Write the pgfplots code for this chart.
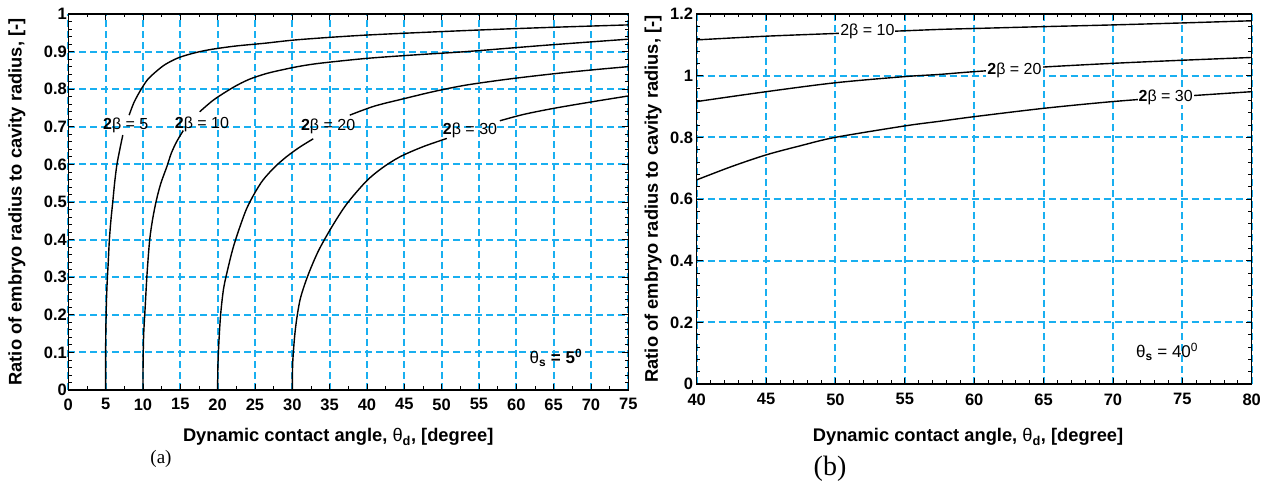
\documentclass[border=0pt]{standalone}
\usepackage{fontspec}
\setmainfont{Liberation Sans}
\newfontfamily\seriffont{Liberation Serif}
\usepackage{pgfplots}
\pgfplotsset{compat=1.18}
\definecolor{gridc}{RGB}{25,175,240}
\pgfplotsset{
  panel/.style={
    scale only axis,
    axis line style={line width=1.2pt},
    grid=major,
    major grid style={dash pattern=on 7pt off 4pt, color=gridc, line width=2pt},
    tick style={black, line width=0.8pt},
    major tick length=6pt,
    minor tick length=3.5pt,
    /pgf/number format/assume math mode=true,
    tick label style={font=\fontsize{16.5}{16.5}\selectfont\bfseries},
    label style={font=\fontsize{18.3}{18.3}\selectfont\bfseries},
    cycle list={{black, solid, line width=1.4pt}},
    every axis plot post/.append style={black, solid, line width=1.4pt, no markers, smooth, tension=0.5},
  }
}
\begin{document}
\begin{tikzpicture}[x=1pt,y=1pt]
\useasboundingbox (0,0) rectangle (1261,489);
% ---------------- panel (a)
\begin{axis}[panel,
  at={(68.3pt,99pt)}, anchor=south west,
  width=560pt, height=376pt,
  xmin=0, xmax=75, ymin=0, ymax=1,
  xtick={0,5,...,75},
  ytick={0,0.1,0.2,0.3,0.4,0.5,0.6,0.7,0.8,0.9,1},
  yticklabels={0,0.1,0.2,0.3,0.4,0.5,0.6,0.7,0.8,0.9,1},
  minor x tick num=1, minor y tick num=4,
  xticklabel style={yshift=-5pt},
  yticklabel style={xshift=2pt},
  xlabel={Dynamic contact angle, {\mdseries θ}\textsubscript{d}, [degree]},
  ylabel={Ratio of embryo radius to cavity radius, [-]},
  xlabel style={at={(axis description cs:0.482,0)}, anchor=center, yshift=-47pt},
  ylabel style={at={(axis description cs:-0.0916,0.5)}, anchor=center},
]
% 2beta = 5
\addplot coordinates {(5,0) (5.0,0.08) (5.02,0.15) (5.1,0.23) (5.2,0.284) (5.35,0.34) (5.5,0.399) (5.7,0.45) (5.95,0.499) (6.2,0.55) (6.5,0.598) (6.9,0.64) (7.3,0.678)};
\addplot coordinates {(8.15,0.731) (8.8,0.765) (9.7,0.798) (10.6,0.825) (11.7,0.846) (13.0,0.866) (14.8,0.884) (17,0.897) (19.2,0.906) (22.5,0.915) (26.2,0.922) (31,0.932) (40,0.944) (53.3,0.956) (64,0.964) (75,0.971)};
% 2beta = 10
\addplot coordinates {(10,0) (10.02,0.08) (10.1,0.15) (10.3,0.222) (10.55,0.31) (10.9,0.399) (11.3,0.455) (11.8,0.505) (12.4,0.55) (13.2,0.594) (13.8,0.63) (14.5,0.66) (15.4,0.69)};
\addplot coordinates {(17.6,0.740) (19.5,0.772) (22.1,0.805) (24.2,0.826) (26.6,0.842) (29,0.853) (31,0.861) (33.7,0.869) (40,0.882) (47,0.892) (53.3,0.900) (64,0.917) (75,0.933)};
% 2beta = 20
\addplot coordinates {(20,0) (20.03,0.06) (20.15,0.12) (20.4,0.2) (20.8,0.27) (21.4,0.325) (22.1,0.38) (23,0.435) (23.9,0.483) (25,0.525) (26.1,0.559) (27.6,0.592) (29.2,0.620) (31,0.646) (32.8,0.668)};
\addplot coordinates {(37.7,0.731) (41,0.755) (45,0.775) (49,0.794) (53.3,0.811) (59,0.827) (65,0.841) (70,0.851) (75,0.860)};
% 2beta = 30
\addplot coordinates {(30,0) (30.05,0.07) (30.3,0.14) (30.6,0.19) (31.1,0.245) (32.1,0.305) (33.5,0.37) (35.3,0.434) (37.3,0.495) (39.9,0.555) (42,0.59) (44.4,0.62) (47.5,0.647) (50.7,0.669)};
\addplot coordinates {(57.8,0.716) (61,0.733) (65,0.749) (70,0.766) (75,0.782)};
\node[font=\fontsize{16}{16}\selectfont] at (axis cs:7.7,0.705) {\textbf{2}β = 5};
\node[font=\fontsize{16}{16}\selectfont] at (axis cs:17.9,0.707) {\textbf{2}β = 10};
\node[font=\fontsize{16}{16}\selectfont] at (axis cs:34.8,0.70) {\textbf{2}β = 20};
\node[font=\fontsize{16}{16}\selectfont] at (axis cs:53.8,0.69) {\textbf{2}β = 30};
\node[font=\fontsize{17}{17}\selectfont] at (axis cs:65.3,0.085) {θ\textsubscript{\textbf{s}} \textbf{= 5\textsuperscript{0}}};
\end{axis}
% ---------------- panel (b)
\begin{axis}[panel,
  at={(696.7pt,105pt)}, anchor=south west,
  width=555pt, height=370pt,
  xmin=40, xmax=80, ymin=0, ymax=1.2,
  xtick={40,45,...,80},
  ytick={0,0.2,0.4,0.6,0.8,1,1.2},
  yticklabels={0,0.2,0.4,0.6,0.8,1,1.2},
  minor x tick num=4, minor y tick num=4,
  xticklabel style={yshift=-6pt},
  xlabel={Dynamic contact angle, {\mdseries θ}\textsubscript{d}, [degree]},
  ylabel={Ratio of embryo radius to cavity radius, [-]},
  xlabel style={at={(axis description cs:0.489,0)}, anchor=center, yshift=-53pt},
  ylabel style={at={(axis description cs:-0.0787,0.5)}, anchor=center},
]
\addplot coordinates {(40,1.116) (45,1.128) (50.1,1.137) (54.7,1.145) (57.5,1.150) (60,1.153) (65,1.159) (69.5,1.164) (75,1.171) (80,1.178)};
\addplot coordinates {(40,0.916) (45,0.948) (50,0.977) (55,0.997) (57.5,1.004) (60,1.013) (65,1.028) (70,1.040) (75,1.050) (80,1.059)};
\addplot coordinates {(40,0.662) (42.5,0.705) (45,0.743) (47.5,0.773) (50,0.800) (55,0.837) (57.5,0.852) (60,0.867) (65,0.894) (70,0.916) (75,0.933) (80,0.948)};
\node[font=\fontsize{16}{16}\selectfont, fill=white, inner sep=1pt] at (axis cs:52.3,1.145) {2β = 10};
\node[font=\fontsize{16}{16}\selectfont, fill=white, inner sep=1pt] at (axis cs:62.9,1.018) {\textbf{2}β = 20};
\node[font=\fontsize{16}{16}\selectfont, fill=white, inner sep=1pt] at (axis cs:73.8,0.931) {\textbf{2}β = 30};
\node[font=\fontsize{17}{17}\selectfont] at (axis cs:73.9,0.105) {θ\textsubscript{\textbf{s}} = 40\textsuperscript{0}};
\end{axis}
\node[font=\seriffont\fontsize{19}{19}\selectfont] at (161,30) {(a)};
\node[font=\seriffont\fontsize{28}{28}\selectfont] at (830,20) {(b)};
\end{tikzpicture}
\end{document}
